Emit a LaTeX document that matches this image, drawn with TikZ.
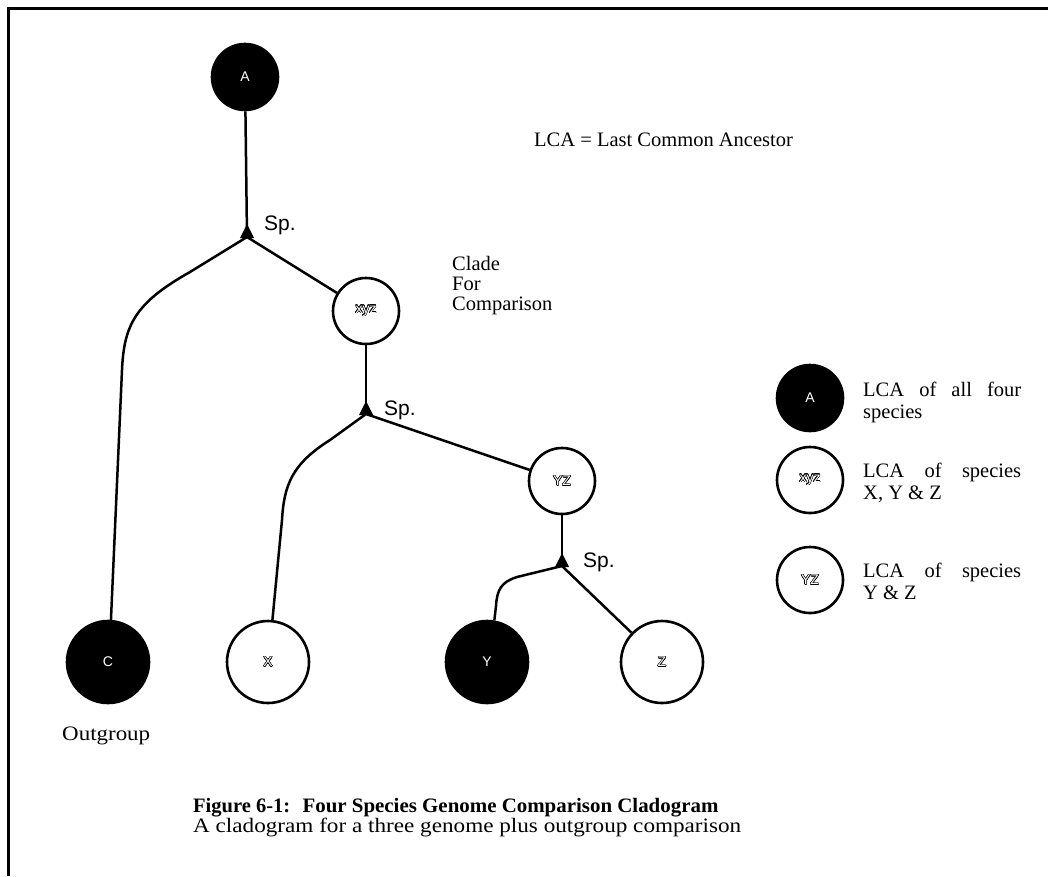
\documentclass[tikz,border=0pt]{standalone}
\usepackage{fontspec}
\usepackage[copies]{contour}
\setmainfont{Liberation Serif}
\newfontfamily\arialf{Liberation Sans}
\contourlength{0.5pt}
\newcommand{\hollow}[1]{\contour{black}{\textcolor{white}{#1}}}
\begin{document}
\begin{tikzpicture}[x=1pt,y=-1pt,
  cbase/.style={circle,draw=black,line width=2.6pt,inner sep=0pt,font=\arialf\fontsize{14}{14}\selectfont},
  small/.style={cbase,minimum size=66pt},
  big/.style={cbase,minimum size=82pt},
  dark/.style={fill=black,text=white},
  light/.style={fill=white},
  edge/.style={line width=2.5pt,line join=round},
  splab/.style={font=\arialf\fontsize{21}{21}\selectfont,inner sep=0pt},
  txt/.style={font=\fontsize{20.5}{20}\selectfont,inner sep=0pt},
  legtxt/.style={font=\fontsize{20.5}{22}\selectfont,inner sep=0pt,anchor=north west,text width=158pt,align=justify},
  frame/.style={line width=3pt}
]
\useasboundingbox (0,0) rectangle (1048,876);
% frame
\coordinate (f1) at (4,8);
\coordinate (f2) at (1048,8);
\coordinate (f3) at (8,876);
\draw[frame] (f2) -- (f1 -| f3) -- (f3);

% tree nodes
\node[small,dark] (A) at (245,77) {A};
\node[small,light] (xyz) at (366,311) {\hollow{xyz}};
\node[small,light] (YZ) at (562,481) {\hollow{YZ}};
\node[big,dark] (C) at (108,662) {C};
\node[big,light] (X) at (268,662) {\hollow{X}};
\node[big,dark] (Y) at (487,662) {Y};
\node[big,light] (Z) at (662,662) {\hollow{Z}};

% speciation points
\coordinate (s1) at (247,237);
\coordinate (s2) at (366,414);
\coordinate (s3) at (562,566);
\foreach \s in {s1,s2,s3}{
  \fill[shift={(\s)}] (-7,1) -- (0,-13) -- (7,1) -- cycle;
}
\node[splab,anchor=west] (sp1) at (264,225) {Sp.};
\node[splab,anchor=west] (sp2) at (384,410) {Sp.};
\node[splab,anchor=west] (sp3) at (583,562) {Sp.};

% connectors
\draw[edge] (A) -- (s1);
\draw[edge] (s1) -- (xyz);
\draw[edge] (s1) -- (190,272) .. controls (135,303) and (124,325) .. (122,370) -- (C.86);
\draw[edge] (xyz) -- (s2);
\draw[edge] (s2) -- (YZ);
\draw[edge] (s2) -- (330,440) .. controls (292,464) and (284,485) .. (282,520) -- (X.84);
\draw[edge] (YZ) -- (s3);
\draw[edge] (s3) -- (517,577) .. controls (501,582) and (497,590) .. (496,606) -- (Y.80);
\draw[edge] (s3) -- (Z);

% texts
\node[txt,anchor=west] (lcadef) at (534,140) {LCA = Last Common Ancestor};
\node[txt,anchor=north west,align=left] (clade) at (452,256) {Clade\\For\\Comparison};
\node[txt,anchor=west] (outg) at (62,736) {\addfontfeature{FakeStretch=1.12}Outgroup};

% legend
\node[small,dark] (LA) at (810,398) {A};
\node[small,light] (Lxyz) at (810,480) {\hollow{xyz}};
\node[small,light] (LYZ) at (810,580) {\hollow{YZ}};
\node[legtxt] (tA) at (863,382) {LCA of all four\linebreak species};
\node[legtxt] (tB) at (863,463) {LCA of species\linebreak X, Y \& Z};
\node[legtxt] (tC) at (863,563) {LCA of species\linebreak Y \& Z};

% caption
\node[txt,anchor=base west] (cap1) at (193,812) {\bfseries Figure 6-1:};
\node[txt,anchor=base west] (cap2) at ([xshift=12pt]cap1.base east) {\bfseries\addfontfeature{FakeStretch=1.02}Four Species Genome Comparison Cladogram};
\node[txt,anchor=base west] (cap3) at (193,832) {\addfontfeature{FakeStretch=1.13}A cladogram for a three genome plus outgroup comparison};
\end{tikzpicture}
\end{document}
